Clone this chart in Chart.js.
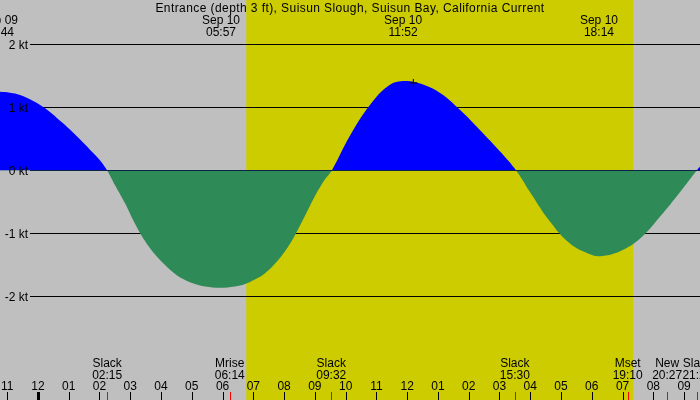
<!DOCTYPE html>
<html>
<head>
<meta charset="utf-8">
<script src="https://cdn.jsdelivr.net/npm/chart.js@4.4.0/dist/chart.umd.min.js"></script>
<style>
  html, body { margin: 0; padding: 0; background: #fff; overflow: hidden; }
  #wrap { width: 700px; height: 400px; position: relative; }
</style>
</head>
<body>
<div id="wrap"><canvas id="myChart"></canvas></div>
<script>
// current speed (kt), time in hours from midnight Sep 10
const hours = [-1.27, -0.91, -0.58, -0.26, 0.07, 0.39, 0.72, 1.04, 1.37, 1.69, 2.02, 2.25,
  2.50, 2.83, 3.15, 3.48, 3.80, 4.13, 4.45, 4.78, 5.10, 5.43, 5.92, 6.40, 6.73, 7.05, 7.38, 7.70, 8.03, 8.35, 8.68, 9.00, 9.33, 9.55,
  10.14, 10.79, 11.44, 11.93, 12.42, 13.07, 13.72, 14.37, 15.02, 15.54,
  15.99, 16.64, 17.29, 17.94, 18.27, 18.92, 19.57, 20.22, 20.87, 21.41, 21.58];
const speeds = [1.25, 1.235, 1.20, 1.13, 1.04, 0.93, 0.79, 0.65, 0.49, 0.33, 0.16, 0,
  -0.23, -0.52, -0.84, -1.12, -1.33, -1.50, -1.64, -1.74, -1.80, -1.84, -1.86, -1.84, -1.80, -1.73, -1.63, -1.48, -1.28, -1.03, -0.72, -0.41, -0.14, 0,
  0.55, 1.04, 1.36, 1.42, 1.38, 1.23, 0.96, 0.64, 0.30, 0,
  -0.34, -0.81, -1.16, -1.33, -1.36, -1.28, -1.08, -0.73, -0.34, 0, 0.10];

const markHour = [12.20];
const markSpeed = [1.39];

const yTicks = [2, 1, 0, -1, -2];
const yLabels = ['2 kt', '1 kt', '0 kt', '-1 kt', '-2 kt'];

const hourTicks = [-1, 0, 1, 2, 3, 4, 5, 6, 7, 8, 9, 10, 11, 12, 13, 14, 15, 16, 17, 18, 19, 20, 21];
const hourLabels = ['11', '12', '01', '02', '03', '04', '05', '06', '07', '08', '09', '10', '11', '12', '01', '02', '03', '04', '05', '06', '07', '08', '09'];
const noonTicks = [0];

// max flood / ebb labels at the top
const topHours = [-1.267, 5.95, 11.867, 18.233];
const topDates = ['Sep 09', 'Sep 10', 'Sep 10', 'Sep 10'];
const topTimes = ['22:44', '05:57', '11:52', '18:14'];

// slack and moon events at the bottom
const evHours = [2.25, 6.233, 9.533, 15.5, 19.167, 20.45, 21.433];
const evNames = ['Slack', 'Mrise', 'Slack', 'Slack', 'Mset', 'New', 'Slack'];
const evTimes = ['02:15', '06:14', '09:32', '15:30', '19:10', '20:27', '21:26'];

const sunrise = 6.77;
const sunset = 19.34;

const title = 'Entrance (depth 3 ft), Suisun Slough, Suisun Bay, California Current';

const FONT = '12px "Liberation Sans", Arial, sans-serif';

const tidePlugin = {
  id: 'tide',
  beforeDatasetsDraw(chart) {
    const ctx = chart.ctx;
    const x = chart.scales.x, y = chart.scales.y;
    const a = chart.chartArea;
    ctx.save();
    // night / day background
    ctx.fillStyle = '#bfbfbf';
    ctx.fillRect(a.left, a.top, a.right - a.left, a.bottom - a.top);
    const x1 = x.getPixelForValue(sunrise), x2 = x.getPixelForValue(sunset);
    ctx.fillStyle = '#cccc00';
    ctx.fillRect(x1, a.top, x2 - x1, a.bottom - a.top);
    // level lines
    ctx.strokeStyle = '#000';
    ctx.lineWidth = 1;
    yTicks.forEach(v => {
      const py = Math.round(y.getPixelForValue(v)) + 0.5;
      ctx.beginPath();
      ctx.moveTo(30, py);
      ctx.lineTo(a.right, py);
      ctx.stroke();
    });
    ctx.restore();
  },
  afterDatasetsDraw(chart) {
    const ctx = chart.ctx;
    const x = chart.scales.x, y = chart.scales.y;
    ctx.save();
    ctx.font = FONT;
    ctx.fillStyle = '#000';
    // y labels
    ctx.textAlign = 'right';
    ctx.textBaseline = 'middle';
    yTicks.forEach((v, i) => ctx.fillText(yLabels[i], 28, y.getPixelForValue(v) + 1));
    // title and top labels
    ctx.textAlign = 'center';
    ctx.textBaseline = 'alphabetic';
    ctx.letterSpacing = '0.42px';
    ctx.fillText(title, 350, 12);
    ctx.letterSpacing = '0px';
    topHours.forEach((h, i) => {
      const px = x.getPixelForValue(h);
      ctx.fillText(topDates[i], px, 24);
      ctx.fillText(topTimes[i], px, 36);
    });
    // bottom events
    evHours.forEach((h, i) => {
      const px = x.getPixelForValue(h);
      ctx.fillText(evNames[i], px, 367);
      ctx.fillText(evTimes[i], px, 379);
    });
    // hour labels and ticks
    hourTicks.forEach((h, i) => {
      const px = x.getPixelForValue(h);
      ctx.fillText(hourLabels[i], px, 390);
      const noon = noonTicks.includes(h);
      ctx.fillRect(Math.round(px) - (noon ? 1 : 0), 392, noon ? 3 : 1, 8);
    });
    ctx.fillStyle = '#ff0000';
    evHours.forEach(h => {
      const px = x.getPixelForValue(h);
      ctx.fillRect(Math.round(px), 392, 1, 8);
    });
    ctx.restore();
  }
};

const data = {
  datasets: [{
    type: 'scatter',
    label: 'mark',
    data: markHour.map((h, i) => ({ x: h, y: markSpeed[i] })),
    pointStyle: 'cross',
    pointRadius: 4,
    borderColor: '#000',
    borderWidth: 1,
    order: 0
  }, {
    type: 'line',
    label: 'current',
    data: hours.map((h, i) => ({ x: h, y: speeds[i] })),
    borderWidth: 0,
    borderColor: 'rgba(0,0,0,0)',
    pointRadius: 0,
    tension: 0.4,
    fill: { target: 'origin', above: '#0000ff', below: '#2e8b57' },
    order: 1
  }]
};

const config = {
  type: 'line',
  data: data,
  options: {
    responsive: true,
    maintainAspectRatio: false,
    animation: false,
    layout: { padding: 0, autoPadding: false },
    plugins: {
      legend: { display: false },
      tooltip: { enabled: false }
    },
    scales: {
      x: { type: 'linear', display: false, min: -1.2333, max: 21.5167 },
      y: { type: 'linear', display: false, min: -3.643, max: 2.706 }
    }
  },
  plugins: [tidePlugin]
};

const myChart = new Chart(document.getElementById('myChart'), config);
</script>
</body>
</html>
